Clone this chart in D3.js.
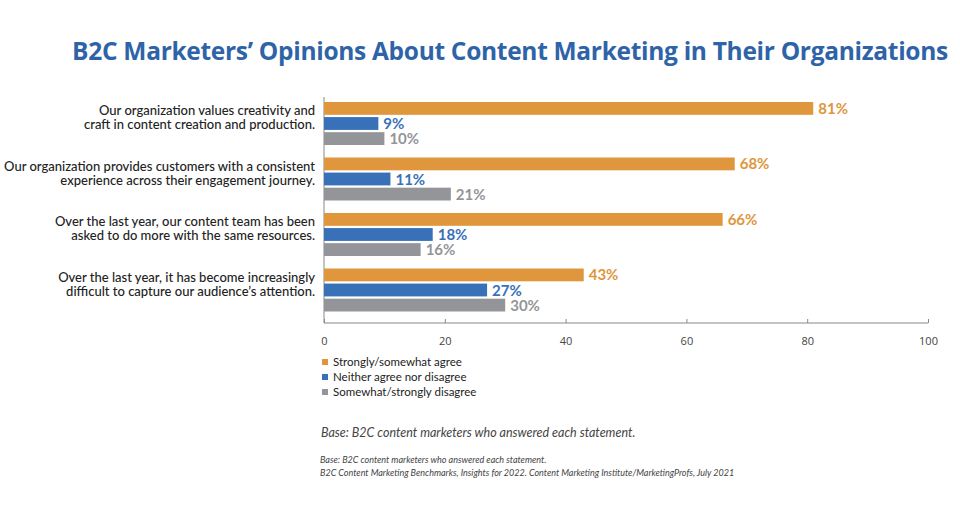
<!DOCTYPE html>
<html><head><meta charset="utf-8">
<script src="https://cdn.jsdelivr.net/npm/d3@7"></script>
<style>body{margin:0;background:#fff;font-family:Lato,sans-serif}</style>
</head><body>
<script>
var statements = [
  ["Our organization values creativity and", "craft in content creation and production."],
  ["Our organization provides customers with a consistent", "experience across their engagement journey."],
  ["Over the last year, our content team has been", "asked to do more with the same resources."],
  ["Over the last year, it has become increasingly", "difficult to capture our audience\u2019s attention."]
];
var series = ["Strongly/somewhat agree", "Neither agree nor disagree", "Somewhat/strongly disagree"];
var agree = [81, 68, 66, 43];
var neither = [9, 11, 18, 27];
var disagree = [10, 21, 16, 30];
var ticks = [0, 20, 40, 60, 80, 100];
var colors = ["#e0963c", "#3871b8", "#939598"];
var values = [agree, neither, disagree];

var svg = d3.select('body').append('svg').attr('width', 960).attr('height', 506);

svg.append('text').attr('x', 510).attr('y', 60).attr('text-anchor', 'middle')
  .attr('fill', '#2f63a8').style('font-size', '24.5px').style('font-weight', 'bold')
  .style('font-family', 'Open Sans, sans-serif').style('letter-spacing', '-0.3px')
  .text("B2C Marketers\u2019 Opinions About Content Marketing in Their Organizations");

var x = d3.scaleLinear().domain([0, 100]).range([324, 928]);
var y0 = d3.scaleLinear().domain([0, 4]).range([102, 324]);
var y1 = d3.scaleBand().domain(d3.range(3)).range([0, 43]).paddingInner(0.15);

// axis
var ax = svg.append('g').attr('transform', 'translate(0,323)')
  .call(d3.axisBottom(x).tickValues(ticks).tickSize(-4).tickPadding(14));
ax.select('.domain').attr('stroke', '#888').attr('d', 'M324,0H928');
ax.selectAll('.tick line').attr('stroke', '#888');
ax.selectAll('.tick text').attr('fill', '#444').style('font-size', '11px').style('font-family', 'Open Sans, sans-serif');
svg.append('line').attr('x1', 324).attr('x2', 324).attr('y1', 97).attr('y2', 323).attr('stroke', '#888');

statements.forEach(function(lines, i) {
  var g = svg.append('g').attr('transform', 'translate(0,' + y0(i) + ')');
  var t = g.append('text').attr('text-anchor', 'end').attr('fill', '#222')
    .style('font-size', '13px').style('font-weight', 500).style('font-family', 'Lato, sans-serif');
  lines.forEach(function(l, k) {
    t.append('tspan').attr('x', 315).attr('y', 13 + k * 14).text(l);
  });
  values.forEach(function(arr, s) {
    g.append('rect').attr('x', x(0)).attr('y', y1(s)).attr('width', x(arr[i]) - x(0))
      .attr('height', y1.bandwidth()).attr('fill', colors[s]);
    g.append('text').attr('x', x(arr[i]) + 5).attr('y', y1(s) + y1.bandwidth() / 2 + 5.5)
      .attr('fill', colors[s]).style('font-size', '15px').style('font-weight', 'bold')
      .style('font-family', 'Lato, sans-serif').text(arr[i] + '%');
  });
});

var lg = svg.append('g').attr('transform', 'translate(322,362)');
series.forEach(function(s, i) {
  lg.append('rect').attr('x', 0).attr('y', i * 15 - 3).attr('width', 6).attr('height', 6).attr('fill', colors[i]);
  lg.append('text').attr('x', 11).attr('y', i * 15 + 4).attr('fill', '#222')
    .style('font-size', '11.5px').style('font-family', 'Lato, sans-serif').text(s);
});

svg.append('text').attr('x', 321).attr('y', 437).attr('fill', '#444').style('font-style', 'italic')
  .style('font-size', '12.5px').style('font-family', 'Lato, sans-serif')
  .text("Base: B2C content marketers who answered each statement.");
svg.append('text').attr('x', 320).attr('y', 463).attr('fill', '#444').style('font-style', 'italic')
  .style('font-size', '9px').style('font-family', 'Lato, sans-serif')
  .text("Base: B2C content marketers who answered each statement.");
svg.append('text').attr('x', 320).attr('y', 476).attr('fill', '#444').style('font-style', 'italic')
  .style('font-size', '9px').style('font-family', 'Lato, sans-serif')
  .text("B2C Content Marketing Benchmarks, Insights for 2022. Content Marketing Institute/MarketingProfs, July 2021");
</script>
</body></html>
